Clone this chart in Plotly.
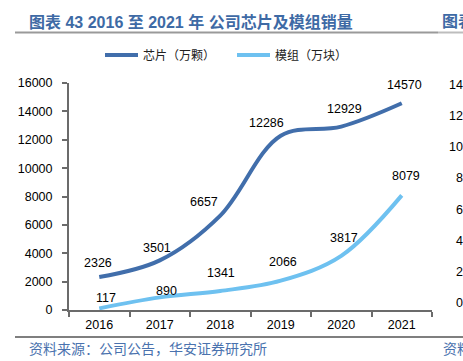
import plotly.graph_objects as go

years = ["2016", "2017", "2018", "2019", "2020", "2021"]
chips = [2326, 3501, 6657, 12286, 12929, 14570]
modules = [117, 890, 1341, 2066, 3817, 8079]
y_ticks = [0, 2000, 4000, 6000, 8000, 10000, 12000, 14000, 16000]
neighbor_ticks = ["14", "12", "10", "8", "6", "4", "2", "0"]

# label offsets in pixels (dx, dy) - styling only
chip_off = [(-1, 14), (-3, 12), (-16, 14), (-14, 13), (3, 18), (3, 18)]
mod_off = [(7, 10), (7, 6), (1, 18), (2, 19), (3, 18), (4, 19)]

W, H = 463, 361
L, R, T, B = 69, 432, 83, 310
def px(x):
    return (x - L) / (R - L)
def py(y):
    return (B - y) / (B - T)

CHIP = "#416EAB"
MOD = "#6EC1F0"
TITLE_C = "#3E6AA5"
LAT = "Liberation Sans, Arial, Noto Sans CJK SC"
CJK = "Liberation Sans, Noto Sans CJK SC"

fig = go.Figure()
fig.add_trace(go.Scatter(x=years, y=chips, mode="lines", name="芯片（万颗）",
                         line=dict(color=CHIP, width=4, shape="spline", smoothing=1.0),
                         hoverinfo="skip"))
fig.add_trace(go.Scatter(x=years, y=modules, mode="lines", name="模组（万块）",
                         line=dict(color=MOD, width=4, shape="spline", smoothing=1.0),
                         hoverinfo="skip"))

ann = []
for i, v in enumerate(chips):
    ann.append(dict(x=i, y=v, xref="x", yref="y", text=str(v), showarrow=False,
                    xshift=chip_off[i][0], yshift=chip_off[i][1],
                    font=dict(family=LAT, size=12.5, color="#000")))
for i, v in enumerate(modules):
    ann.append(dict(x=i, y=v, xref="x", yref="y", text=str(v), showarrow=False,
                    xshift=mod_off[i][0], yshift=mod_off[i][1],
                    font=dict(family=LAT, size=12.5, color="#000")))

# title
ann.append(dict(x=px(27), y=py(22), xref="paper", yref="paper", xanchor="left", yanchor="middle",
                text="<b>图表 43 2016 至 2021 年 公司芯片及模组销量</b>", showarrow=False,
                font=dict(family=CJK, size=16, color=TITLE_C)))
ann.append(dict(x=px(440), y=py(22), xref="paper", yref="paper", xanchor="left", yanchor="middle",
                text="<b>图表 44</b>", showarrow=False,
                font=dict(family=CJK, size=16, color=TITLE_C)))
# legend texts
ann.append(dict(x=px(141), y=py(55), xref="paper", yref="paper", xanchor="left", yanchor="middle",
                text="芯片（万颗）", showarrow=False,
                font=dict(family="Noto Sans CJK SC", size=12, color="#222")))
ann.append(dict(x=px(273), y=py(55), xref="paper", yref="paper", xanchor="left", yanchor="middle",
                text="模组（万块）", showarrow=False,
                font=dict(family="Noto Sans CJK SC", size=12, color="#222")))
# source
ann.append(dict(x=px(27), y=py(348), xref="paper", yref="paper", xanchor="left", yanchor="middle",
                text="资料来源：公司公告，华安证券研究所", showarrow=False,
                font=dict(family="Noto Sans CJK SC", size=14, color="#4A72AE")))
ann.append(dict(x=px(441), y=py(348), xref="paper", yref="paper", xanchor="left", yanchor="middle",
                text="资料来源", showarrow=False,
                font=dict(family="Noto Sans CJK SC", size=14, color="#4A72AE")))
# neighbouring chart's clipped axis labels
for i, t in enumerate(neighbor_ticks):
    yy = 85 + i * (303 - 85) / 7
    ann.append(dict(x=px(465), y=py(yy), xref="paper", yref="paper", xanchor="right", yanchor="middle",
                    text=t, showarrow=False,
                    font=dict(family=LAT, size=12.5, color="#000")))

shapes = [
    dict(type="line", xref="paper", yref="paper", x0=px(15), x1=px(438), y0=py(32.5), y1=py(32.5),
         line=dict(color="#9A9A9A", width=2)),
    dict(type="line", xref="paper", yref="paper", x0=px(438), x1=px(470), y0=py(32.5), y1=py(32.5),
         line=dict(color="#BDBDBD", width=2)),
    dict(type="line", xref="paper", yref="paper", x0=px(105), x1=px(138), y0=py(55), y1=py(55),
         line=dict(color=CHIP, width=4)),
    dict(type="line", xref="paper", yref="paper", x0=px(237), x1=px(270), y0=py(55), y1=py(55),
         line=dict(color=MOD, width=4)),
    dict(type="line", xref="paper", yref="paper", x0=px(15), x1=px(470), y0=py(337), y1=py(337),
         line=dict(color="#555555", width=1.5)),
]

fig.update_layout(
    width=W, height=H,
    margin=dict(l=L, r=W - R, t=T, b=H - B, pad=0, autoexpand=False),
    paper_bgcolor="white", plot_bgcolor="white",
    showlegend=False,
    annotations=ann, shapes=shapes,
    xaxis=dict(type="category", range=[-0.5, 5.5], showline=True, linecolor="#6B6B6B", linewidth=2,
               ticks="outside", tickson="boundaries", ticklen=5, tickcolor="#6B6B6B", tickwidth=1.5,
               showgrid=False, zeroline=False, ticklabelstandoff=2,
               tickfont=dict(family=LAT, size=12.5, color="#000")),
    yaxis=dict(range=[0, 16000], tickvals=y_ticks, ticktext=[str(t) for t in y_ticks],
               showline=True, linecolor="#6B6B6B", linewidth=2,
               ticks="outside", ticklen=5, tickcolor="#6B6B6B", tickwidth=1.5,
               showgrid=False, zeroline=False, ticklabelstandoff=7,
               tickfont=dict(family=LAT, size=12.5, color="#000")),
)

fig.write_html("out.html", config={"displayModeBar": False},
               post_script="document.body.style.margin='0';document.body.style.overflow='hidden';")
